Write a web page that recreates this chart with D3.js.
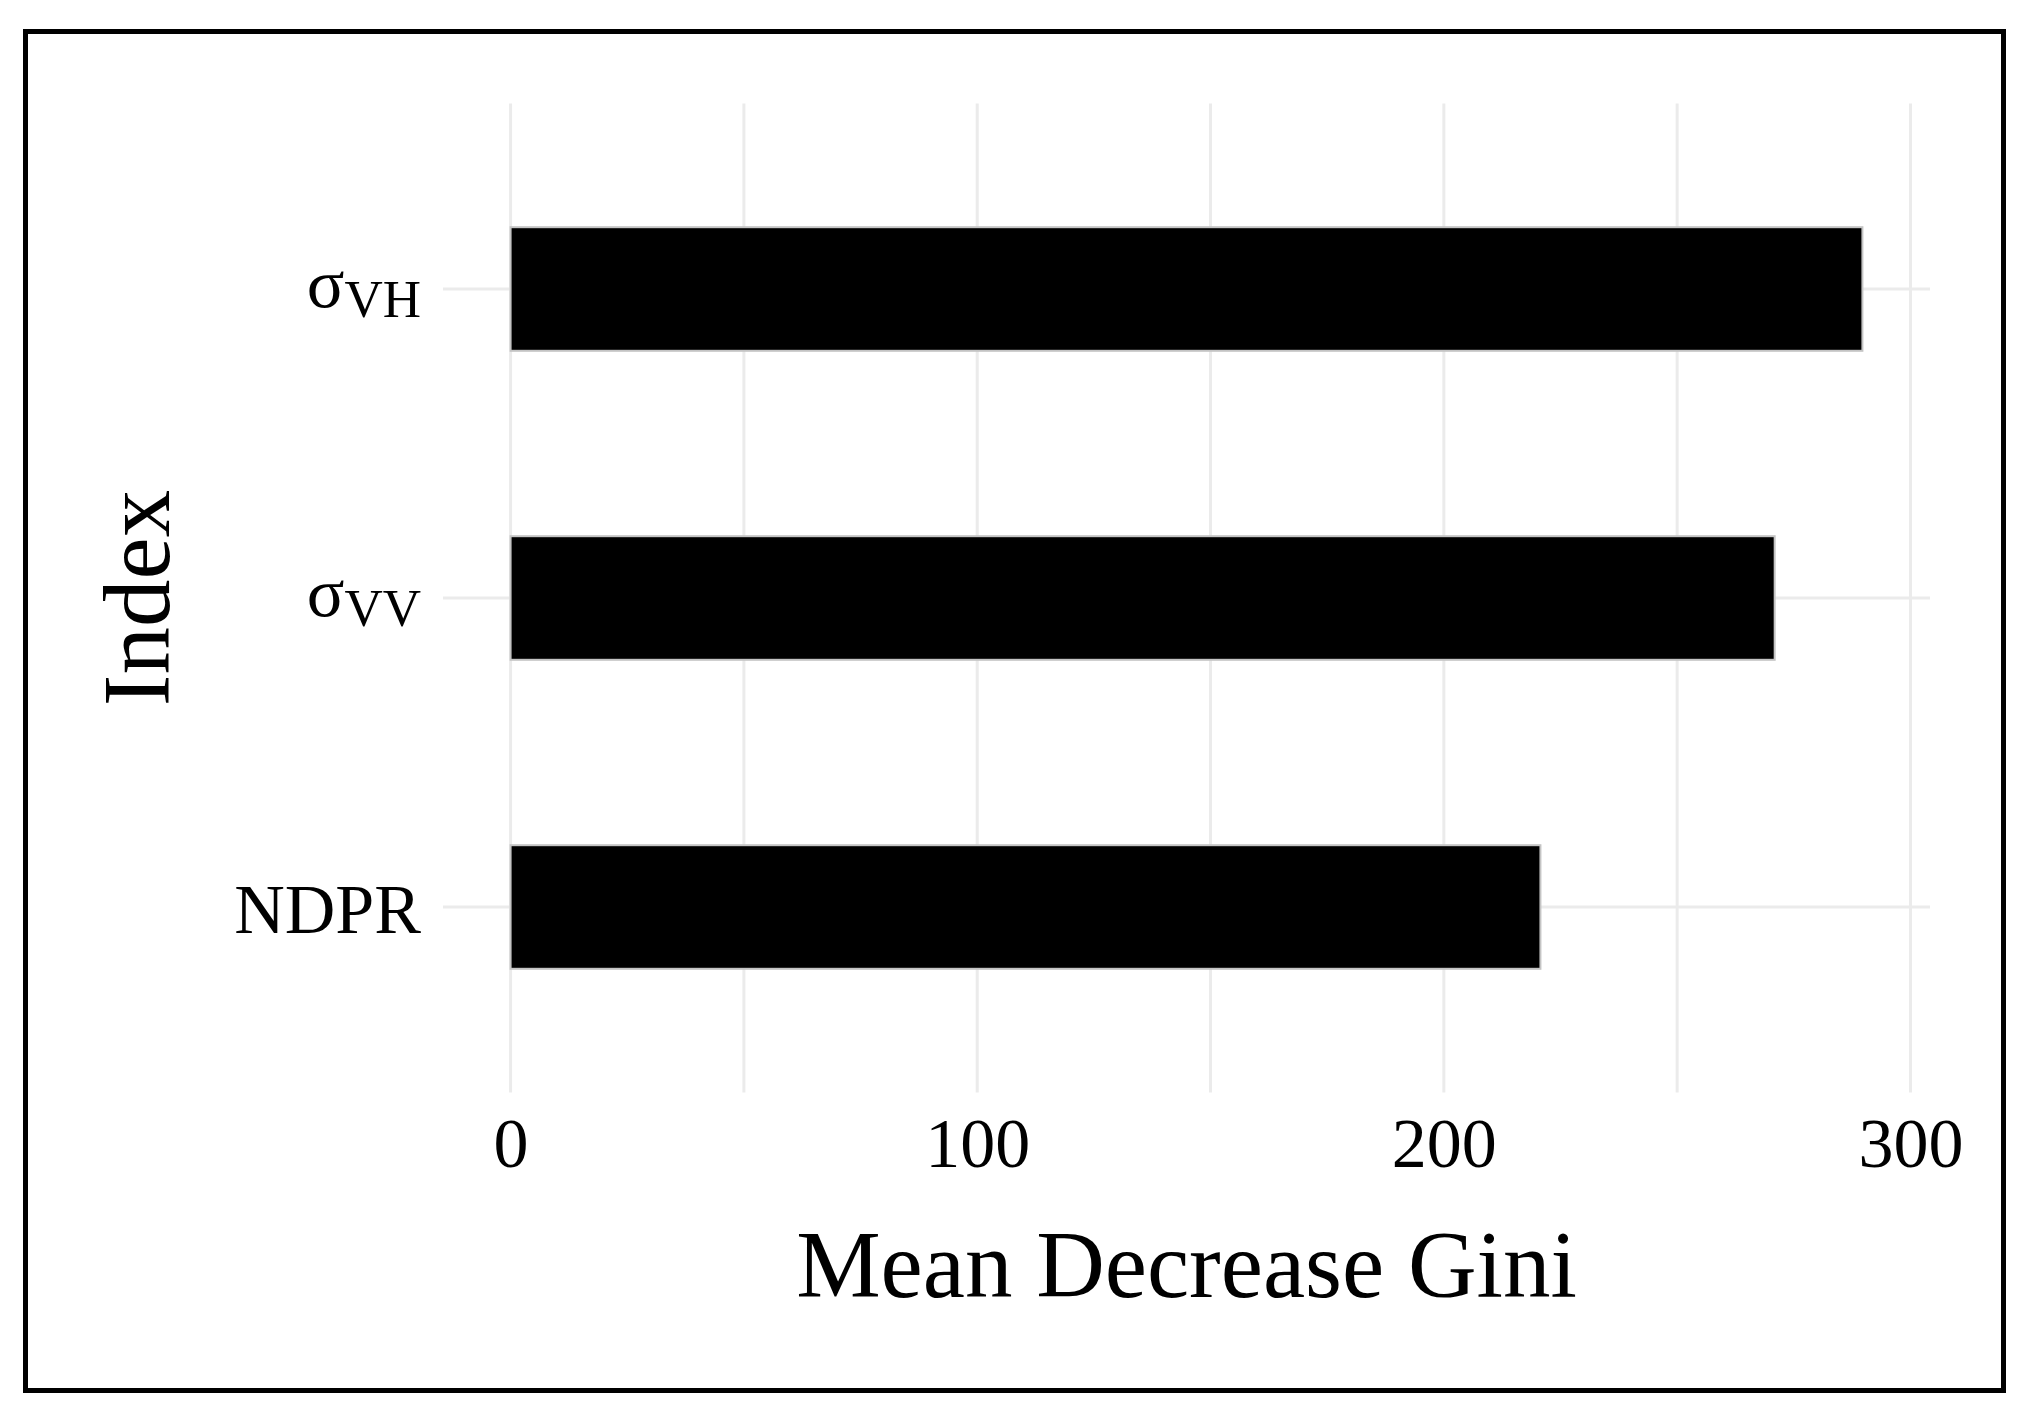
<!DOCTYPE html>
<html>
<head>
<meta charset="utf-8">
<script src="https://cdn.jsdelivr.net/npm/d3@7"></script>
<style>
  html, body { margin: 0; padding: 0; background: #ffffff; }
  svg { display: block; }
  text { font-family: "Liberation Serif", "Times New Roman", serif; fill: #000; }
</style>
</head>
<body>
<script>
// ---- data ----
const categories = ["sigmaVH", "sigmaVV", "NDPR"];
const labelMain = ["σ", "σ", "NDPR"];
const labelSub = ["VH", "VV", ""];
const values = [289.7, 270.9, 220.7];
const majorTicks = [0, 100, 200, 300];
const minorTicks = [50, 150, 250];
const xTitle = "Mean Decrease Gini";
const yTitle = "Index";

// ---- layout ----
const W = 2044, H = 1421;
const svg = d3.select("body").append("svg").attr("width", W).attr("height", H);
svg.append("rect").attr("width", W).attr("height", H).attr("fill", "#fff");

const maxV = d3.max(values);
const expand = maxV * 0.05;
const x = d3.scaleLinear().domain([0 - expand, maxV + expand]).range([443, 1930]);

const y = d3.scalePoint().domain(categories).range([289, 907]);
const step = y.step();
const panelTop = y(categories[0]) - 0.6 * step;
const panelBottom = y(categories[categories.length - 1]) + 0.6 * step;
const barH = 0.4 * step;

const grid = svg.append("g");
// vertical gridlines
grid.selectAll("line.vmaj").data(majorTicks.concat(minorTicks)).join("line")
  .attr("x1", d => x(d)).attr("x2", d => x(d))
  .attr("y1", panelTop).attr("y2", panelBottom)
  .attr("stroke", "#ebebeb").attr("stroke-width", 3);
// horizontal gridlines
grid.selectAll("line.h").data(categories).join("line")
  .attr("x1", x.range()[0]).attr("x2", x.range()[1])
  .attr("y1", d => y(d)).attr("y2", d => y(d))
  .attr("stroke", "#ebebeb").attr("stroke-width", 3);

// bars
svg.append("g").selectAll("rect").data(categories).join("rect")
  .attr("x", x(0))
  .attr("y", d => y(d) - barH / 2)
  .attr("width", (d, i) => x(values[i]) - x(0))
  .attr("height", barH)
  .attr("fill", "#000")
  .attr("stroke", "#c4c4c4")
  .attr("stroke-width", 2);

// x axis tick labels
const xAxis = d3.axisBottom(x).tickValues(majorTicks).tickSize(0).tickPadding(0).tickFormat(d3.format("d"));
const gx = svg.append("g").attr("transform", `translate(0, ${panelBottom})`).call(xAxis);
gx.select(".domain").remove();
gx.selectAll(".tick text")
  .attr("y", 75).attr("dy", null)
  .attr("font-size", 70)
  .style("font-family", "'Liberation Serif', 'Times New Roman', serif")
  .attr("fill", "#000");

// y axis labels (with subscripts)
const ylab = svg.append("g").selectAll("text").data(categories).join("text")
  .attr("x", 421)
  .attr("y", (d, i) => y(d) + (labelSub[i] ? 18 : 26))
  .attr("text-anchor", "end")
  .attr("font-size", 70);
ylab.append("tspan").text((d, i) => labelMain[i]);
ylab.append("tspan")
  .attr("font-size", 53)
  .attr("dy", 10)
  .text((d, i) => labelSub[i]);

// titles
svg.append("text")
  .attr("x", (x.range()[0] + x.range()[1]) / 2)
  .attr("y", 1297)
  .attr("text-anchor", "middle")
  .attr("font-size", 95)
  .text(xTitle);

svg.append("text")
  .attr("transform", `translate(169, ${(panelTop + panelBottom) / 2}) rotate(-90)`)
  .attr("text-anchor", "middle")
  .attr("font-size", 95)
  .text(yTitle);

// outer frame
svg.append("rect")
  .attr("x", 25.5).attr("y", 31.5)
  .attr("width", 1978).attr("height", 1359)
  .attr("fill", "none")
  .attr("stroke", "#000")
  .attr("stroke-width", 5);
</script>
</body>
</html>
